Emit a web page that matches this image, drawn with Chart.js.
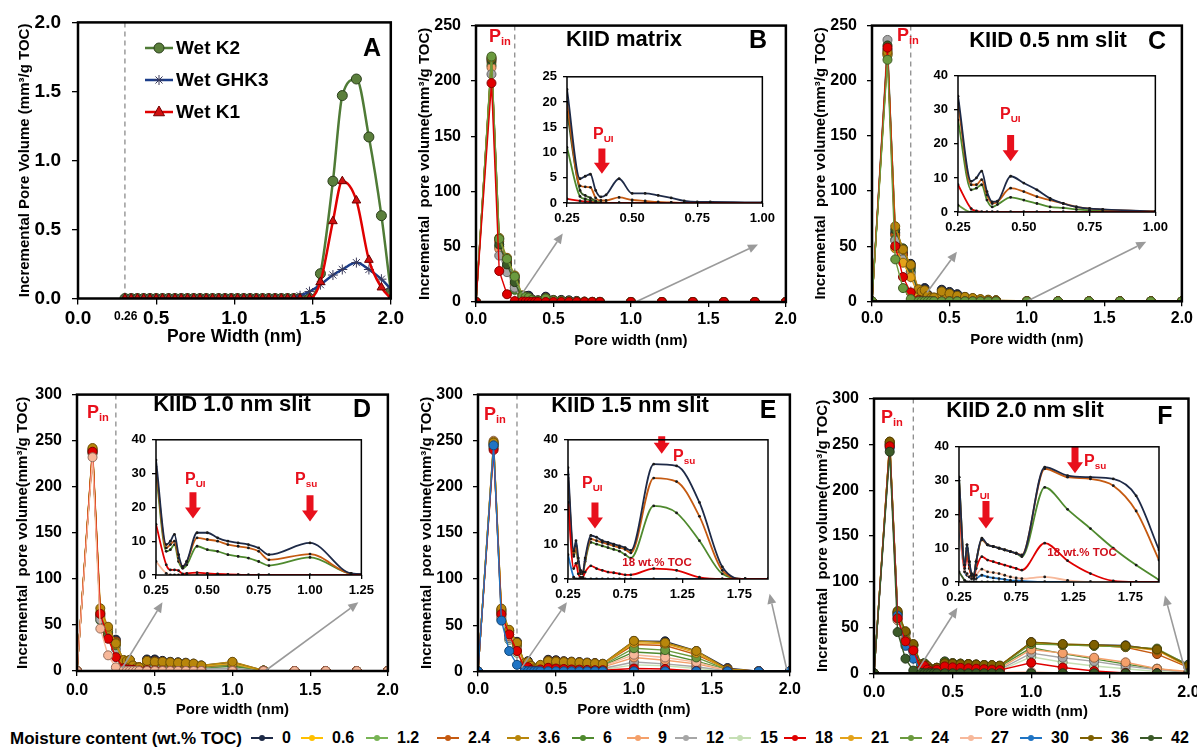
<!DOCTYPE html>
<html>
<head>
<meta charset="utf-8">
<title>Incremental pore volume, KIID</title>
<script src="https://cdn.jsdelivr.net/npm/chart.js"></script>
<style>
  body { margin: 0; width: 1197px; height: 750px; overflow: hidden; position: relative; background: #fff;
         font-family: "Liberation Sans", Arial, sans-serif; font-weight: bold; color: #000; }
  canvas { position: absolute; }
  .lbl { position: absolute; white-space: nowrap; line-height: 1; transform: translateY(-50%); }
  .ctr { transform: translate(-50%, -50%); }
  .ttl { font-size: 22px; }
  .let { font-size: 25px; }
  .red { color: #e8101c; }
  .pin { font-size: 18px; }
  .pui { font-size: 16px; }
  .pin sub, .pui sub { font-size: 0.62em; vertical-align: -0.3em; }
  .toc { font-size: 11.5px; color: #d0101c; }
  .leg { position: absolute; top: 738px; transform: translateY(-50%); white-space: nowrap; line-height: 1; font-size: 16px; }
  .mk { position: absolute; top: 737px; width: 22px; height: 2px; }
  .mk b { position: absolute; left: 8px; top: -2px; width: 6px; height: 6px; border-radius: 50%; background: inherit; }
</style>
</head>
<body>
<canvas id="chartA"></canvas>
<canvas id="chartB"></canvas>
<canvas id="chartC"></canvas>
<canvas id="chartD"></canvas>
<canvas id="chartE"></canvas>
<canvas id="chartF"></canvas>
<canvas id="insetB"></canvas>
<canvas id="insetC"></canvas>
<canvas id="insetD"></canvas>
<canvas id="insetE"></canvas>
<canvas id="insetF"></canvas>

<div class="lbl ctr let" style="left:372px;top:47px">A</div>
<div class="lbl" style="left:114px;top:316px;font-size:12px">0.26</div>

<div class="lbl ctr ttl" style="left:624px;top:39px">KIID matrix</div>
<div class="lbl ctr let" style="left:758px;top:39px">B</div>
<div class="lbl red pin" style="left:489px;top:37px">P<sub>in</sub></div>
<div class="lbl red pui" style="left:593px;top:135px">P<sub>UI</sub></div>

<div class="lbl ctr ttl" style="left:1048px;top:40px">KIID 0.5 nm slit</div>
<div class="lbl ctr let" style="left:1157px;top:40px">C</div>
<div class="lbl red pin" style="left:897px;top:36px">P<sub>in</sub></div>
<div class="lbl red pui" style="left:1000px;top:115px">P<sub>UI</sub></div>

<div class="lbl ctr ttl" style="left:232px;top:404px">KIID 1.0 nm slit</div>
<div class="lbl ctr let" style="left:362px;top:408px">D</div>
<div class="lbl red pin" style="left:87px;top:413px">P<sub>in</sub></div>
<div class="lbl red pui" style="left:185px;top:480px">P<sub>UI</sub></div>
<div class="lbl red pui" style="left:295px;top:480px">P<sub>su</sub></div>

<div class="lbl ctr ttl" style="left:630px;top:405px">KIID 1.5 nm slit</div>
<div class="lbl ctr let" style="left:768px;top:409px">E</div>
<div class="lbl red pin" style="left:484px;top:415px">P<sub>in</sub></div>
<div class="lbl red pui" style="left:582px;top:484px">P<sub>UI</sub></div>
<div class="lbl red pui" style="left:673px;top:457px">P<sub>su</sub></div>
<div class="lbl ctr toc" style="left:657px;top:563px">18 wt.% TOC</div>

<div class="lbl ctr ttl" style="left:1025px;top:410px">KIID 2.0 nm slit</div>
<div class="lbl ctr let" style="left:1165px;top:415px">F</div>
<div class="lbl red pin" style="left:881px;top:418px">P<sub>in</sub></div>
<div class="lbl red pui" style="left:969px;top:492px">P<sub>UI</sub></div>
<div class="lbl red pui" style="left:1084px;top:462px">P<sub>su</sub></div>
<div class="lbl ctr toc" style="left:1082px;top:553px">18 wt.% TOC</div>

<div class="leg" style="left:10px;font-size:17px">Moisture content (wt.% TOC)</div>
<div id="legend"></div>

<script>
// pore widths (nm) of the KIID panels B-F
const poreWidth = [0, 0.1, 0.15, 0.2, 0.25, 0.3, 0.32, 0.34, 0.36, 0.38, 0.4, 0.45, 0.5, 0.55, 0.6, 0.65, 0.7, 0.75, 0.8, 1.0, 1.2, 1.4, 1.6, 1.8, 2.0];

// panel A, wet kerogens
const aWidth = [0.3, 0.34, 0.38, 0.42, 0.46, 0.5, 0.54, 0.58, 0.62, 0.66, 0.7, 0.74, 0.78, 0.82, 0.86, 0.9, 0.94, 0.98, 1.02, 1.06, 1.1, 1.14, 1.18, 1.22, 1.26, 1.3, 1.34, 1.38, 1.42, 1.48, 1.55, 1.63, 1.69, 1.78, 1.86, 1.94, 2.0];
const wetK2 = [0, 0, 0, 0, 0, 0, 0, 0, 0, 0, 0, 0, 0, 0, 0, 0, 0, 0, 0, 0, 0, 0, 0, 0, 0, 0, 0, 0, 0, 0, 0.18, 0.85, 1.47, 1.59, 1.17, 0.6, 0.05];
const wetGHK3 = [0, 0, 0, 0, 0, 0, 0, 0, 0, 0, 0, 0, 0, 0, 0, 0, 0, 0, 0, 0, 0, 0, 0, 0, 0, 0, 0, 0, 0.02, 0.05, 0.1, 0.17, 0.21, 0.26, 0.21, 0.14, 0.07];
const wetK1 = [0, 0, 0, 0, 0, 0, 0, 0, 0, 0, 0, 0, 0, 0, 0, 0, 0, 0, 0, 0, 0, 0, 0, 0, 0, 0, 0, 0, 0, 0, 0.12, 0.56, 0.85, 0.71, 0.28, 0.08, 0];

// moisture contents (wt.% TOC)
const moisture = ['0', '0.6', '1.2', '2.4', '3.6', '6', '9', '12', '15', '18', '21', '24', '27', '30', '36', '42'];

// B: KIID matrix
const B_0   = [0, 220, 57, 38, 22.5, 4.8, 5.3, 5.7, 2.5, 1.2, 1.6, 4.8, 1.9, 1.9, 1.5, 1.0, 0.4, 0.2, 0.2, 0.1, 0, 0, 0, 0, 0];
const B_2_4 = [0, 217, 55, 36, 20, 3.4, 3.2, 3.1, 1.0, 0.5, 0.5, 1.1, 0.6, 0.4, 0.2, 0.1, 0, 0, 0, 0, 0, 0, 0, 0, 0];
const B_3_6 = [0, 221, 58, 40, 24, 6, 4.5, 4, 2, 1, 1.2, 3.5, 1.5, 1.2, 0.8, 0.5, 0.3, 0.1, 0, 0, 0, 0, 0, 0, 0];
const B_6   = [0, 214, 50, 32, 11, 1.3, 0.8, 0.5, 0.3, 0.1, 0, 0, 0, 0, 0, 0, 0, 0, 0, 0, 0, 0, 0, 0, 0];
const B_9   = [0, 212, 48, 30, 16, 3, 2.5, 2, 1, 0.5, 0.5, 1.5, 0.8, 0.5, 0.3, 0.2, 0, 0, 0, 0, 0, 0, 0, 0, 0];
const B_12  = [0, 206, 42, 27, 13, 2, 1.5, 1.2, 0.6, 0.3, 0.3, 0.8, 0.4, 0.2, 0, 0, 0, 0, 0, 0, 0, 0, 0, 0, 0];
const B_18  = [0, 198, 28, 7, 0.8, 0.4, 0.3, 0.2, 0, 0, 0, 0, 0, 0, 0, 0, 0, 0, 0, 0, 0, 0, 0, 0, 0];
const B_24  = [0, 222, 57, 39, 23, 5.5, 4.5, 4, 1.8, 0.9, 1, 3.2, 1.4, 1, 0.6, 0.4, 0.2, 0, 0, 0, 0, 0, 0, 0, 0];
const B_42  = [0, 219, 52, 34, 18, 2.5, 1.5, 1, 0.4, 0, 0, 0, 0, 0, 0, 0, 0, 0, 0, 0, 0, 0, 0, 0, 0];

// C: KIID 0.5 nm slit
const C_0   = [0, 228, 62, 44, 34, 9, 10, 12, 6, 3, 3.2, 10.5, 8.5, 6.5, 4, 2.5, 1.5, 1, 0.8, 0.2, 0, 0, 0, 0, 0];
const C_2_4 = [0, 225, 60, 42, 32, 8, 8, 9.5, 5, 2.5, 3, 7, 6, 4.5, 3.5, 2.5, 1.5, 1, 0.7, 0.2, 0, 0, 0, 0, 0];
const C_3_6 = [0, 226, 68, 47, 33, 11, 9, 10, 5, 3, 3.5, 9, 7, 5, 4, 3, 2, 1.5, 1, 0.3, 0, 0, 0, 0, 0];
const C_6   = [0, 223, 56, 38, 27, 6.5, 7, 8, 3.5, 1.5, 2.2, 4.3, 3.5, 2.5, 1.5, 1.2, 0.8, 0.5, 0.3, 0.1, 0, 0, 0, 0, 0];
const C_12  = [0, 237, 55, 38, 25, 6, 5, 6, 3, 2, 2, 6, 5, 4, 3, 2, 1, 0.8, 0.5, 0.1, 0, 0, 0, 0, 0];
const C_18  = [0, 230, 50, 22, 8, 1, 0.3, 0, 0, 0, 0, 0, 0, 0, 0, 0, 0, 0, 0, 0, 0, 0, 0, 0, 0];
const C_21  = [0, 224, 48, 35, 22, 5, 4, 5, 2, 1, 1.5, 5, 4, 3, 2, 1.5, 1, 0.5, 0.3, 0.1, 0, 0, 0, 0, 0];
const C_24  = [0, 219, 38, 12, 2, 0, 0, 0, 0, 0, 0, 0, 0, 0, 0, 0, 0, 0, 0, 0, 0, 0, 0, 0, 0];
const C_42  = [0, 232, 65, 48, 30, 8, 7, 8, 4, 2, 2.5, 7, 5, 4, 3, 2, 1.2, 0.8, 0.5, 0.1, 0, 0, 0, 0, 0];

// D: KIID 1.0 nm slit
const D_0   = [0, 240, 60, 42, 34, 9, 10, 12, 6, 2.5, 4, 12.5, 12.5, 11, 10, 9.5, 9, 8, 6, 9.5, 0.5, 0, 0, 0, 0];
const D_2_4 = [0, 238, 58, 40, 32, 8, 9, 10, 5, 2.5, 4, 11, 10.5, 10, 9, 8.5, 8, 7, 4.5, 6.2, 0.4, 0, 0, 0, 0];
const D_3_6 = [0, 242, 68, 48, 30, 12, 11, 12, 6, 3, 4, 11, 10, 10, 9.5, 9, 8.5, 8, 6, 10, 0.5, 0, 0, 0, 0];
const D_6   = [0, 236, 55, 38, 30, 7, 7.5, 9, 4, 2, 3, 8.5, 7.5, 7, 6, 5.5, 5, 4, 2.8, 5.2, 0.4, 0, 0, 0, 0];
const D_12  = [0, 237, 56, 36, 24, 7, 6, 7, 3.5, 2, 2.5, 6, 5.5, 5, 4.5, 4, 3.5, 3, 2.5, 3, 0.2, 0, 0, 0, 0];
const D_18  = [0, 238, 62, 35, 15, 3, 1.5, 1.5, 1.3, 0.3, 0.5, 0.7, 0.5, 0.3, 0.2, 0.1, 0, 0, 0, 0, 0, 0, 0, 0, 0];
const D_21  = [0, 241, 64, 46, 29, 11, 10, 11, 5.5, 3, 4, 10, 9.5, 9, 8.5, 8, 7.5, 7, 5.5, 8, 0.4, 0, 0, 0, 0];
const D_24  = [0, 239, 62, 44, 28, 10, 9, 10, 5, 2.5, 3.5, 9.5, 9, 8.5, 8, 7.5, 7, 6.5, 5, 7, 0.4, 0, 0, 0, 0];
const D_27  = [0, 232, 46, 17, 4, 0.5, 0, 0, 0, 0, 0, 0, 0, 0, 0, 0, 0, 0, 0, 0, 0, 0, 0, 0, 0];

// E: KIID 1.5 nm slit
const E_0   = [0, 246, 66, 44, 32, 8, 11, 6, 2.5, 2, 6, 12.5, 12, 11, 10.5, 10, 9.5, 9, 8.2, 33, 32.5, 22, 3.5, 0, 0];
const E_2_4 = [0, 244, 64, 42, 30, 7, 9.5, 5, 2, 1.8, 5.5, 11.5, 11, 10.5, 10, 9.5, 9, 8.5, 7.5, 29, 28, 18, 2.5, 0, 0];
const E_3_6 = [0, 248, 68, 45, 31, 9, 10, 6, 3, 3, 7, 11, 10.5, 10, 10, 9.5, 9, 8.5, 8, 33, 31, 22, 2, 0, 0];
const E_6   = [0, 242, 62, 40, 29, 6.5, 8.5, 4.5, 1.5, 1.5, 5, 10.5, 10, 9.5, 9, 8.5, 8, 7, 6, 21, 19, 11, 1.5, 0, 0];
const E_9   = [0, 247, 60, 38, 25, 5, 6, 3, 2, 2, 4, 7, 7, 6.5, 6, 6, 5.5, 5, 4.5, 15, 12, 8, 1, 0, 0];
const E_12  = [0, 245, 58, 36, 22, 4, 5, 3, 1.5, 1.5, 3, 5, 5, 4.5, 4, 4, 3.5, 3, 3, 10, 8, 5, 0.5, 0, 0];
const E_15  = [0, 243, 56, 34, 20, 3, 4, 2, 1, 1, 2, 4, 4, 3.5, 3, 3, 2.5, 2, 2, 7, 6, 3, 0.3, 0, 0];
const E_18  = [0, 240, 62, 40, 22, 3, 4.5, 1.5, 0.5, 0.5, 2, 3.8, 3, 2.5, 2, 1.8, 1.5, 1.2, 1.2, 3, 2.5, 0.5, 0, 0, 0];
const E_21  = [0, 249, 67, 44, 30, 8, 9, 5, 3, 2.5, 6, 10, 10, 9.5, 9, 9, 8.5, 8, 7.5, 31, 30, 20, 1.5, 0, 0];
const E_24  = [0, 247, 65, 43, 29, 8, 9, 5, 2, 2, 5.5, 9, 9, 8.5, 8, 8, 7.5, 7, 6.5, 25, 23, 15, 1.5, 0, 0];
const E_27  = [0, 250, 62, 40, 26, 6, 7, 4, 2, 2, 4.5, 8, 7.5, 7, 7, 6.5, 6, 6, 5.5, 18, 15, 10, 1, 0, 0];
const E_30  = [0, 245, 55, 22, 7, 0.5, 0, 0, 0, 0, 0, 0, 0, 0, 0, 0, 0, 0, 0, 0, 0, 0, 0, 0, 0];

// F: KIID 2.0 nm slit
const F_0   = [0, 250, 66, 44, 31, 5, 11, 6, 2.5, 2, 6, 13, 11, 10.5, 10, 9.5, 9, 8.5, 7.8, 34, 31.5, 31, 30.5, 25.5, 9.5];
const F_2_4 = [0, 252, 65, 43, 30, 5, 10, 5, 2, 2, 6, 12.5, 11, 10.5, 10, 9.5, 9, 8.5, 8, 33.5, 31, 30.5, 28.5, 21, 6.5];
const F_6   = [0, 251, 66, 45, 31, 5, 11, 6, 2, 2, 6, 12.5, 11, 10.5, 10, 9.5, 9, 8.5, 7.5, 28, 21.5, 15.8, 10, 5, 0.6];
const F_9   = [0, 249, 62, 40, 27, 6, 6, 5, 3, 2.5, 4, 8, 7.5, 7, 7, 6.5, 6, 6, 5.5, 26, 22, 17, 12, 5, 2];
const F_12  = [0, 248, 60, 38, 25, 5, 5, 4, 2.5, 2, 3.5, 6, 6, 5.5, 5, 5, 4.5, 4.5, 4, 22, 17, 13, 8, 4, 1];
const F_15  = [0, 247, 58, 36, 23, 4, 4, 3, 2, 1.5, 3, 5, 5, 4.5, 4, 4, 3.5, 3.5, 3, 18, 12, 8, 5, 2, 0.5];
const F_18  = [0, 248, 60, 35, 25, 4, 8, 4, 2, 1.5, 4, 7.5, 6.5, 6, 5.5, 5, 4.5, 4, 3.5, 11.5, 6.3, 2.5, 0.3, 0, 0];
const F_21  = [0, 253, 67, 45, 31, 9, 9, 7, 4, 3.5, 5.5, 10, 10, 9.5, 9.5, 9, 8.5, 8.5, 8, 33, 31, 30, 29, 25, 7];
const F_24  = [0, 250, 64, 44, 30, 8, 8, 6, 4, 3, 5, 11, 10, 10, 9.5, 9, 9, 8.5, 8, 32, 31, 30, 29, 27, 9];
const F_27  = [0, 249, 58, 35, 18, 3, 2.5, 1.5, 1, 1, 2, 3.8, 3, 2.8, 2.5, 2, 1.5, 1.2, 1, 1.5, 0.5, 0, 0, 0, 0];
const F_30  = [0, 246, 63, 30, 16, 3, 2, 1.5, 1, 0.8, 1, 2, 1.5, 1.2, 1, 0.8, 0.5, 0.4, 0.3, 0, 0, 0, 0, 0, 0];
const F_36  = [0, 253, 68, 46, 32, 10, 10, 8, 5, 4, 6, 11, 10.5, 10, 10, 9.5, 9, 9, 8.5, 34, 32, 31, 30, 26, 8];
const F_42  = [0, 242, 45, 16, 3, 0.5, 0, 0, 0, 0, 0, 0, 0, 0, 0, 0, 0, 0, 0, 0, 0, 0, 0, 0, 0];

const moistureColor = {
    '0': '#1e2a47', '0.6': '#ffc000', '1.2': '#78b455', '2.4': '#c55a11', '3.6': '#b8860b', '6': '#4f8a2e',
    '9': '#f4a06a', '12': '#a6a6a6', '15': '#c5dfb4', '18': '#e00000', '21': '#e3a21a', '24': '#6b9a3e',
    '27': '#f7b89a', '30': '#1f74c4', '36': '#7f6000', '42': '#3b5a28'
};
// x position of each legend label text
const legendTextX = [282, 332, 397, 468, 538, 603, 658, 706, 760, 815, 871, 931, 991, 1051, 1111, 1171];

Chart.defaults.font.family = '"Liberation Sans", Arial, sans-serif';
Chart.defaults.font.weight = 'bold';
Chart.defaults.color = '#000';
Chart.defaults.animation = false;

function darker(hex) {
    const n = parseInt(hex.slice(1), 16);
    const r = Math.round(((n >> 16) & 255) * 0.6), g = Math.round(((n >> 8) & 255) * 0.6), b = Math.round((n & 255) * 0.6);
    return `rgb(${r},${g},${b})`;
}

// size and place a canvas so that its plot area lands on box = [left, top, right, bottom]
function place(id, box, yW, xH, pad) {
    const cv = document.getElementById(id);
    cv.width = pad.l + yW + (box[2] - box[0]) + pad.r;
    cv.height = pad.t + (box[3] - box[1]) + xH;
    cv.style.left = (box[0] - yW - pad.l) + 'px';
    cv.style.top = (box[1] - pad.t) + 'px';
    return cv;
}

function marker(ctx, style, x, y, r) {
    ctx.beginPath();
    if (style === 'triangle') {
        ctx.moveTo(x, y - r * 1.2); ctx.lineTo(x + r * 1.1, y + r * 0.75); ctx.lineTo(x - r * 1.1, y + r * 0.75); ctx.closePath();
        ctx.fill(); ctx.stroke();
    } else if (style === 'star') {
        for (let k = 0; k < 4; k++) {
            const a = k * Math.PI / 4;
            ctx.moveTo(x - r * Math.cos(a), y - r * Math.sin(a)); ctx.lineTo(x + r * Math.cos(a), y + r * Math.sin(a));
        }
        ctx.stroke();
    } else {
        ctx.arc(x, y, r, 0, Math.PI * 2); ctx.fill(); ctx.stroke();
    }
}

// dashed cut-off line, zoom arrows, red arrows, frame, legend of panel A
const overlayPlugin = {
    id: 'overlay',
    beforeDatasetsDraw(chart, args, o) {
        const { ctx, chartArea: a, scales: { x } } = chart;
        if (o.dashX !== undefined && o.dashX !== null) {
            const px = x.getPixelForValue(o.dashX);
            ctx.save();
            ctx.strokeStyle = '#8c8c8c'; ctx.lineWidth = 1.3; ctx.setLineDash([5, 4]);
            ctx.beginPath(); ctx.moveTo(px, a.top); ctx.lineTo(px, a.bottom); ctx.stroke();
            ctx.restore();
        }
    },
    afterDatasetsDraw(chart, args, o) {
        const { ctx, chartArea: a, scales: { x, y } } = chart;
        ctx.save();
        (o.arrows || []).forEach(ar => {
            const x0 = x.getPixelForValue(ar[0]), y0 = y.getPixelForValue(ar[1]);
            const x1 = x.getPixelForValue(ar[2]), y1 = y.getPixelForValue(ar[3]);
            const ang = Math.atan2(y1 - y0, x1 - x0), hl = 10, hw = 4.5;
            ctx.strokeStyle = ctx.fillStyle = '#9a9a9a'; ctx.lineWidth = 1.6;
            ctx.beginPath(); ctx.moveTo(x0, y0);
            ctx.lineTo(x1 - hl * Math.cos(ang), y1 - hl * Math.sin(ang)); ctx.stroke();
            ctx.beginPath(); ctx.moveTo(x1, y1);
            ctx.lineTo(x1 - hl * Math.cos(ang) + hw * Math.sin(ang), y1 - hl * Math.sin(ang) - hw * Math.cos(ang));
            ctx.lineTo(x1 - hl * Math.cos(ang) - hw * Math.sin(ang), y1 - hl * Math.sin(ang) + hw * Math.cos(ang));
            ctx.closePath(); ctx.fill();
        });
        (o.blocks || []).forEach(bk => {
            const px = x.getPixelForValue(bk[0]), top = y.getPixelForValue(bk[1]), tip = y.getPixelForValue(bk[2]);
            const sw = 3.5, hw = 8, hl = 11;
            ctx.fillStyle = '#e8101c';
            ctx.beginPath();
            ctx.moveTo(px - sw, top); ctx.lineTo(px + sw, top); ctx.lineTo(px + sw, tip - hl); ctx.lineTo(px + hw, tip - hl);
            ctx.lineTo(px, tip); ctx.lineTo(px - hw, tip - hl); ctx.lineTo(px - sw, tip - hl); ctx.closePath(); ctx.fill();
        });
        if (o.legendAt) {
            const [lx, ly, step] = o.legendAt;
            chart.data.datasets.forEach((ds, i) => {
                const yy = ly + i * step;
                ctx.strokeStyle = ds.borderColor; ctx.lineWidth = 2.5;
                ctx.beginPath(); ctx.moveTo(lx, yy); ctx.lineTo(lx + 28, yy); ctx.stroke();
                ctx.fillStyle = ds.pointBackgroundColor; ctx.strokeStyle = ds.pointBorderColor; ctx.lineWidth = 1;
                marker(ctx, ds.pointStyle, lx + 14, yy, 5);
                ctx.fillStyle = '#000'; ctx.font = 'bold 19px "Liberation Sans", Arial, sans-serif';
                ctx.textBaseline = 'middle'; ctx.textAlign = 'left';
                ctx.fillText(ds.label, lx + 31, yy + 1);
            });
        }
        ctx.strokeStyle = '#000'; ctx.lineWidth = o.frame || 1;
        ctx.strokeRect(a.left, a.top, a.width, a.height);
        ctx.restore();
    }
};
Chart.register(overlayPlugin);

function scaleOpts(s) {
    return {
        type: 'linear', min: s.min, max: s.max,
        ticks: { stepSize: s.step, font: { size: s.font }, padding: s.pad, maxRotation: 0, autoSkip: false,
                 callback: v => v.toFixed(s.dec) },
        grid: { drawOnChartArea: false, drawTicks: true, tickLength: s.tl, color: '#000', lineWidth: 1.3 },
        border: { display: false },
        title: s.title ? { display: true, text: s.title, font: { size: s.titleSize }, padding: s.titlePad } : { display: false },
        afterBuildTicks: s.list ? (sc => { sc.ticks = s.list.map(v => ({ value: v })); }) : undefined,
        afterFit: sc => { if (s.w) sc.width = s.w; if (s.h) sc.height = s.h; }
    };
}

// panel A
(function () {
    const box = [78, 22, 393, 299], yW = 78, xH = 49.5, pad = { l: 0, t: 22, r: 14, b: 0 };
    const cv = place('chartA', box, yW, xH, pad);
    const pts = vals => aWidth.map((x, k) => ({ x, y: vals[k] }));
    new Chart(cv, {
        type: 'line',
        data: { datasets: [
            { label: 'Wet K2', data: pts(wetK2), borderColor: '#4f7b36', borderWidth: 2.5, pointStyle: 'circle', pointRadius: 5,
              pointBackgroundColor: '#5b7f3c', pointBorderColor: '#2b3f1c', pointBorderWidth: 1, cubicInterpolationMode: 'monotone', order: 3 },
            { label: 'Wet GHK3', data: pts(wetGHK3), borderColor: '#1b3d8a', borderWidth: 2.5, pointStyle: 'star', pointRadius: 5,
              pointBackgroundColor: '#2a2a4a', pointBorderColor: '#3a3a5a', pointBorderWidth: 1, cubicInterpolationMode: 'monotone', order: 2 },
            { label: 'Wet K1', data: pts(wetK1), borderColor: '#e00000', borderWidth: 2.5, pointStyle: 'triangle', pointRadius: 5,
              pointBackgroundColor: '#d01010', pointBorderColor: '#700000', pointBorderWidth: 1, cubicInterpolationMode: 'monotone', order: 1 }
        ] },
        options: {
            responsive: false, devicePixelRatio: 1,
            layout: { padding: { left: pad.l, top: pad.t, right: pad.r, bottom: 0 }, autoPadding: false },
            plugins: { legend: { display: false }, tooltip: { enabled: false },
                       overlay: { dashX: 0.3, frame: 2.5, legendAt: [145, 48, 32] } },
            scales: {
                x: scaleOpts({ min: 0, max: 2, step: 0.5, font: 19, pad: 3, tl: 6, dec: 1, title: 'Pore Width (nm)', titleSize: 17.5,
                               titlePad: { top: 0, bottom: 0 }, h: xH }),
                y: scaleOpts({ min: 0, max: 2, step: 0.5, font: 19, pad: 11, tl: 6, dec: 1, title: 'Incremental Pore Volume (mm³/g TOC)',
                               titleSize: 15, titlePad: { top: 16, bottom: 0 }, w: yW })
            }
        }
    });
})();

// series listed bottom-to-top in drawing order
const mainPanels = [
    { id: 'chartB', box: [476, 20, 786, 302], yMax: 250, yW: 60, titleX: 425, xH: 48, tickPad: 3,
      series: [['0', B_0], ['2.4', B_2_4], ['6', B_6], ['9', B_9], ['12', B_12], ['42', B_42], ['3.6', B_3_6], ['24', B_24], ['18', B_18]],
      arrows: [[0.3, 8, 0.56, 62], [1.03, 0, 1.82, 52]] },
    { id: 'chartC', box: [872, 20, 1182, 302], yMax: 250, yW: 60, titleX: 820, xH: 47.7, tickPad: 3,
      series: [['0', C_0], ['2.4', C_2_4], ['6', C_6], ['12', C_12], ['42', C_42], ['21', C_21], ['3.6', C_3_6], ['18', C_18], ['24', C_24]],
      arrows: [[0.355, 8, 0.548, 45], [1.0, 0, 1.77, 54]] },
    { id: 'chartD', box: [77, 389, 390, 671], yMax: 300, yW: 77, titleX: 23, xH: 48, tickPad: 5,
      series: [['0', D_0], ['2.4', D_2_4], ['6', D_6], ['12', D_12], ['24', D_24], ['21', D_21], ['3.6', D_3_6], ['18', D_18], ['27', D_27]],
      arrows: [[0.29, 3, 0.55, 74.5], [1.21, 0, 1.81, 74.5]] },
    { id: 'chartE', box: [478, 389, 791, 672], yMax: 300, yW: 60, titleX: 427, xH: 47.7, tickPad: 4,
      series: [['0', E_0], ['2.4', E_2_4], ['6', E_6], ['15', E_15], ['12', E_12], ['9', E_9], ['27', E_27], ['24', E_24], ['21', E_21],
               ['3.6', E_3_6], ['18', E_18], ['30', E_30]],
      arrows: [[0.28, 4, 0.57, 75], [1.98, 2, 1.87, 84]] },
    { id: 'chartF', box: [874, 393, 1190, 674], yMax: 300, yW: 60, titleX: 822, xH: 47.7, tickPad: 4.4,
      series: [['0', F_0], ['2.4', F_2_4], ['6', F_6], ['15', F_15], ['12', F_12], ['9', F_9], ['27', F_27], ['21', F_21], ['24', F_24],
               ['36', F_36], ['30', F_30], ['18', F_18], ['42', F_42]],
      arrows: [[0.28, 4, 0.53, 71.5], [1.98, 2, 1.85, 85]] }
];

mainPanels.forEach(p => {
    const pad = { l: 0, t: 14, r: 14, b: 0 };
    const cv = place(p.id, p.box, p.yW, p.xH, pad);
    const axisLeft = p.box[0] - p.yW;
    new Chart(cv, {
        type: 'line',
        data: { datasets: p.series.map(([m, vals], i) => ({
            label: m,
            data: poreWidth.map((x, k) => ({ x, y: vals[k] })),
            borderColor: moistureColor[m], borderWidth: 1.4, tension: 0,
            pointRadius: 4.5, pointBackgroundColor: moistureColor[m], pointBorderColor: darker(moistureColor[m]), pointBorderWidth: 1,
            order: p.series.length - i
        })) },
        options: {
            responsive: false, devicePixelRatio: 1,
            layout: { padding: { left: pad.l, top: pad.t, right: pad.r, bottom: 0 }, autoPadding: false },
            plugins: { legend: { display: false }, tooltip: { enabled: false },
                       overlay: { dashX: 0.25, frame: 2.5, arrows: p.arrows } },
            scales: {
                x: scaleOpts({ min: 0, max: 2, step: 0.5, font: 16, pad: p.tickPad, tl: 5, dec: 1, title: 'Pore width (nm)', titleSize: 15,
                               titlePad: { top: 0, bottom: 0 }, h: p.xH }),
                y: scaleOpts({ min: 0, max: p.yMax, step: 50, font: 16, pad: 10, tl: 5, dec: 0, title: 'Incremental  pore volume(mm³/g TOC)',
                               titleSize: 15, titlePad: { top: Math.max(0, p.titleX - axisLeft - 9), bottom: 0 }, w: p.yW })
            }
        }
    });
});

const insets = [
    { id: 'insetB', box: [567, 73, 763, 203], xMax: 1.0, xTicks: [0.25, 0.5, 0.75, 1.0], yMax: 25, yStep: 5,
      series: [['42', B_42], ['6', B_6], ['2.4', B_2_4], ['0', B_0], ['18', B_18]], blocks: [[0.384, 10.8, 5.8]] },
    { id: 'insetC', box: [958, 72, 1156, 212], xMax: 1.0, xTicks: [0.25, 0.5, 0.75, 1.0], yMax: 40, yStep: 10,
      series: [['24', C_24], ['6', C_6], ['2.4', C_2_4], ['0', C_0], ['18', C_18]], blocks: [[0.45, 22.6, 14.9]] },
    { id: 'insetD', box: [156, 436, 362, 575], xMax: 1.25, xTicks: [0.25, 0.5, 0.75, 1.0, 1.25], yMax: 40, yStep: 10,
      series: [['27', D_27], ['6', D_6], ['2.4', D_2_4], ['0', D_0], ['18', D_18]], blocks: [[0.43, 24.5, 16.7], [1.0, 23.6, 15.8]] },
    { id: 'insetE', box: [568, 436, 768, 579], xMax: 2.0, xTicks: [0.25, 0.75, 1.25, 1.75], yMax: 40, yStep: 10,
      series: [['30', E_30], ['6', E_6], ['2.4', E_2_4], ['0', E_0], ['18', E_18]], blocks: [[0.486, 22, 14.5], [1.07, 41, 36]] },
    { id: 'insetF', box: [959, 443, 1159, 582], xMax: 2.0, xTicks: [0.25, 0.75, 1.25, 1.75], yMax: 40, yStep: 10,
      series: [['42', F_42], ['30', F_30], ['27', F_27], ['18', F_18], ['6', F_6], ['2.4', F_2_4], ['0', F_0]],
      blocks: [[0.486, 24, 15.8], [1.265, 40, 32.2]] }
];

insets.forEach(p => {
    const yW = 40, xH = 26, pad = { l: 0, t: 10, r: 16, b: 0 };
    const cv = place(p.id, p.box, yW, xH, pad);
    new Chart(cv, {
        type: 'line',
        data: { datasets: p.series.map(([m, vals], i) => ({
            label: m,
            data: poreWidth.slice(4).map((x, k) => ({ x, y: vals[k + 4] })),
            borderColor: moistureColor[m], borderWidth: 1.8, cubicInterpolationMode: 'monotone',
            pointRadius: 1.4, pointBackgroundColor: '#1a1a1a', pointBorderWidth: 0,
            order: p.series.length - i
        })) },
        options: {
            responsive: false, devicePixelRatio: 1,
            layout: { padding: { left: pad.l, top: pad.t, right: pad.r, bottom: 0 }, autoPadding: false },
            plugins: { legend: { display: false }, tooltip: { enabled: false },
                       overlay: { frame: 1.5, blocks: p.blocks } },
            scales: {
                x: scaleOpts({ min: 0.25, max: p.xMax, list: p.xTicks, font: 13, pad: 4, tl: 4, dec: 2, h: xH }),
                y: scaleOpts({ min: 0, max: p.yMax, step: p.yStep, font: 13, pad: 6, tl: 4, dec: 0, w: yW })
            }
        }
    });
});

// shared moisture legend
const legendBox = document.getElementById('legend');
moisture.forEach((m, i) => {
    const mk = document.createElement('div');
    mk.className = 'mk';
    mk.style.left = (legendTextX[i] - 31) + 'px';
    mk.style.background = moistureColor[m];
    mk.appendChild(document.createElement('b'));
    legendBox.appendChild(mk);
    const t = document.createElement('div');
    t.className = 'leg';
    t.style.left = legendTextX[i] + 'px';
    t.textContent = m;
    legendBox.appendChild(t);
});
</script>
</body>
</html>
